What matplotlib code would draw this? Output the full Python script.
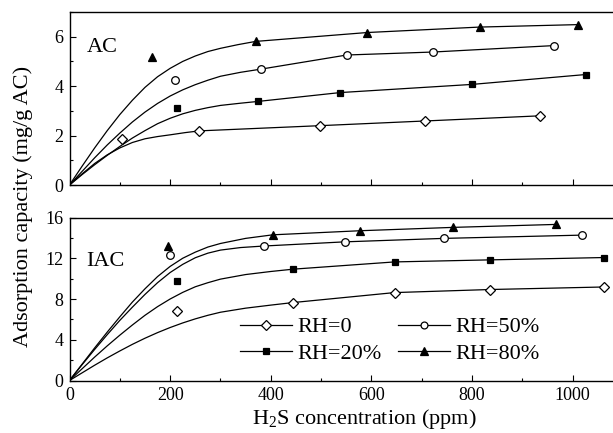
import matplotlib
matplotlib.use('Agg')
import matplotlib.pyplot as plt
from matplotlib.lines import Line2D
from matplotlib.ticker import MultipleLocator

plt.rcParams['font.family'] = ['Liberation Serif', 'DejaVu Serif']
plt.rcParams['mathtext.fontset'] = 'custom'
plt.rcParams['mathtext.rm'] = 'Liberation Serif'
plt.rcParams['mathtext.it'] = 'Liberation Serif:italic'

labels = ['RH=0', 'RH=20%', 'RH=50%', 'RH=80%']
markers = ['D', 's', 'o', '^']
fills = ['white', 'black', 'white', 'black']
msizes = [5.5, 5.0, 5.5, 6.0]

# ---- AC (top panel) measured points ----
ac_x = [
    [105, 258, 497, 706, 936],
    [214, 374, 538, 800, 1026],
    [210, 381, 551, 722, 962],
    [164, 370, 592, 815, 1011],
]
ac_y = [
    [1.85, 2.19, 2.40, 2.59, 2.80],
    [3.11, 3.38, 3.74, 4.07, 4.47],
    [4.26, 4.69, 5.26, 5.38, 5.64],
    [5.18, 5.81, 6.17, 6.39, 6.49],
]
# ---- AC fitted curves ----
ac_fit_x = [
    [0, 25, 50, 75, 100, 125, 150, 175, 200, 230, 258, 497, 706, 936],
    [0, 25, 50, 75, 100, 125, 150, 175, 200, 225, 250, 275, 300, 340, 374, 538, 800, 1026],
    [0, 25, 50, 75, 100, 125, 150, 175, 200, 225, 250, 275, 300, 340, 381, 551, 722, 962],
    [0, 25, 50, 75, 100, 125, 150, 175, 200, 225, 250, 275, 300, 335, 370, 592, 815, 1011],
]
ac_fit_y = [
    [0, 0.45, 0.87, 1.22, 1.5, 1.72, 1.87, 1.96, 2.03, 2.12, 2.19, 2.40, 2.59, 2.80],
    [0, 0.42, 0.82, 1.2, 1.56, 1.9, 2.2, 2.48, 2.7, 2.88, 3.02, 3.13, 3.22, 3.31, 3.38, 3.74, 4.07, 4.47],
    [0, 0.55, 1.1, 1.62, 2.1, 2.55, 2.95, 3.3, 3.6, 3.85, 4.06, 4.24, 4.4, 4.56, 4.69, 5.26, 5.38, 5.64],
    [0, 0.76, 1.5, 2.2, 2.85, 3.43, 3.95, 4.38, 4.72, 5.0, 5.22, 5.4, 5.53, 5.68, 5.81, 6.17, 6.39, 6.49],
]

# ---- IAC (bottom panel) measured points ----
iac_x = [
    [213, 444, 646, 835, 1062],
    [214, 445, 646, 835, 1062],
    [200, 386, 547, 744, 1018],
    [195, 404, 577, 762, 966],
]
iac_y = [
    [6.79, 7.65, 8.63, 8.93, 9.18],
    [9.74, 10.93, 11.64, 11.84, 12.07],
    [12.3, 13.2, 13.61, 13.95, 14.27],
    [13.2, 14.3, 14.7, 15.03, 15.32],
]
# ---- IAC fitted curves ----
iac_fit_x = [
    [0, 25, 50, 75, 100, 125, 150, 175, 200, 225, 250, 275, 300, 350, 400, 444, 646, 835, 1062],
    [0, 25, 50, 75, 100, 125, 150, 175, 200, 225, 250, 275, 300, 350, 400, 445, 646, 835, 1062],
    [0, 25, 50, 75, 100, 125, 150, 175, 200, 225, 250, 275, 300, 340, 386, 547, 744, 1018],
    [0, 25, 50, 75, 100, 125, 150, 175, 200, 225, 250, 275, 300, 350, 404, 577, 762, 966],
]
iac_fit_y = [
    [0, 0.75, 1.5, 2.22, 2.9, 3.55, 4.15, 4.7, 5.2, 5.65, 6.05, 6.4, 6.7, 7.1, 7.4, 7.65, 8.63, 8.93, 9.18],
    [0, 1.15, 2.3, 3.4, 4.45, 5.45, 6.4, 7.25, 8.0, 8.65, 9.2, 9.6, 9.95, 10.4, 10.7, 10.93, 11.64, 11.84, 12.07],
    [0, 1.55, 3.05, 4.5, 5.9, 7.2, 8.45, 9.6, 10.6, 11.4, 12.05, 12.5, 12.8, 13.05, 13.2, 13.61, 13.95, 14.27],
    [0, 1.6, 3.2, 4.75, 6.25, 7.7, 9.0, 10.2, 11.2, 12.0, 12.6, 13.1, 13.45, 13.95, 14.3, 14.7, 15.03, 15.32],
]

W, H = 613, 433
fig = plt.figure(figsize=(W / 100, H / 100), dpi=100)

x0, x1 = 69.5, 623.0
ax1 = fig.add_axes([x0 / W, 1 - 185 / H, (x1 - x0) / W, (185 - 12) / H])
ax2 = fig.add_axes([x0 / W, 1 - 380.5 / H, (x1 - x0) / W, (380.5 - 217.5) / H])

lw = 0.9
for ax, px, py, fx, fy in [(ax1, ac_x, ac_y, ac_fit_x, ac_fit_y),
                            (ax2, iac_x, iac_y, iac_fit_x, iac_fit_y)]:
    for i in range(4):
        ax.plot(fx[i], fy[i], color='black', lw=lw, zorder=2)
        ax.plot(px[i], py[i], linestyle='none', marker=markers[i],
                mfc=fills[i], mec='black', mew=0.9, ms=msizes[i], zorder=3)
    ax.set_xlim(0, 1100)
    ax.xaxis.set_major_locator(MultipleLocator(200))
    ax.xaxis.set_minor_locator(MultipleLocator(100))
    ax.tick_params(which='both', direction='in', width=0.8, labelsize=13, pad=4.5,
                   top=False, right=False)
    ax.tick_params(which='major', length=4.5)
    ax.tick_params(which='minor', length=2.5)
    for s in ax.spines.values():
        s.set_linewidth(1.0)

ax1.set_ylim(0, 7)
ax1.yaxis.set_major_locator(MultipleLocator(2))
ax1.yaxis.set_minor_locator(MultipleLocator(1))
ax1.tick_params(labelbottom=False)

ax2.set_ylim(0, 16)
ax2.yaxis.set_major_locator(MultipleLocator(4))
ax2.yaxis.set_minor_locator(MultipleLocator(2))

ax1.text((87 - x0) / (x1 - x0), (185 - 48) / 173, 'AC', fontsize=16,
         ha='left', va='center', transform=ax1.transAxes)
ax2.text((86 - x0) / (x1 - x0), (380.5 - 261.7) / 163, 'IAC', fontsize=16,
         ha='left', va='center', transform=ax2.transAxes)

handles = [Line2D([], [], color='black', lw=lw, marker=markers[i], mfc=fills[i],
                  mec='black', mew=0.9, ms=msizes[i] * 0.9) for i in range(4)]
ax2.legend(handles, labels, ncol=2, loc='center left',
           bbox_to_anchor=((240 - x0) / (x1 - x0), (380.5 - 340.5) / 163),
           frameon=False, fontsize=16, handlelength=2.34, handletextpad=0.22,
           columnspacing=0.78, labelspacing=0.28, borderpad=0, borderaxespad=0)

fig.text(23 / W, 1 - 206 / H, 'Adsorption capacity (mg/g AC)', rotation=90,
         fontsize=16, ha='center', va='center')
fig.text(364 / W, 1 - 419 / H, r'H$_\mathrm{2}$S concentration (ppm)',
         fontsize=16, ha='center', va='center')

fig.savefig('out.png', dpi=100)
